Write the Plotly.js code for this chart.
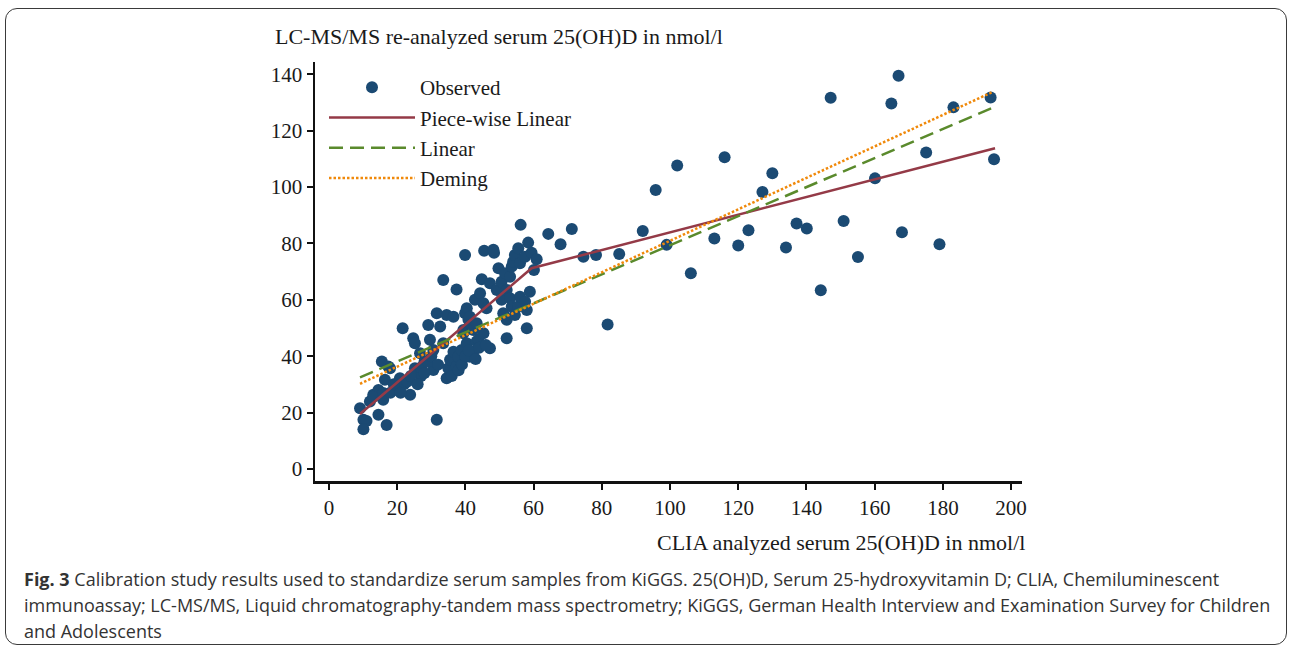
<!DOCTYPE html>
<html>
<head>
<meta charset="utf-8">
<script src="https://cdn.plot.ly/plotly-3.0.1.min.js"></script>
<style>
html,body{margin:0;padding:0;background:#fff;}
#wrap{position:relative;width:1292px;height:651px;}
#chart{width:1292px;height:651px;}
#frame{position:absolute;left:5px;top:8px;width:1280px;height:635px;border:1.5px solid #3a3a3a;border-radius:12px;pointer-events:none;}
</style>
</head>
<body>
<div id="wrap"><div id="chart"></div><div id="frame"></div></div>
<script>
// Observed calibration samples: CLIA (x) vs LC-MS/MS (y), nmol/l
const obsX = [9.1,10.1,11,10.1,12,13,14.5,14.5,15.5,15.9,16.4,16.9,17.4,17.9,19.9,20.8,21.6,22,23.8,24.7,25.2,25.2,26.7,27,28,29.1,29.6,30.6,30.6,31.6,31.6,32.6,33.5,33.5,34.5,34.5,35,35.5,36.5,36.5,37.4,37.4,37.9,38.9,39.4,39.4,39.9,39.9,40.4,40.4,40.9,41.3,41.3,41.8,42.3,42.3,42.8,43.3,43.3,43.8,44.3,44.8,45.3,45.3,45.5,46.2,47.2,47.2,48.4,48.2,49.2,49.7,50.6,50.6,51.1,51.6,52.1,52.1,52.1,53.1,53.1,53.6,53.6,54,54.5,54.5,55.5,55.5,56,56,56.2,57.5,57.5,58,58,58.4,58.9,59.4,60.1,60.9,
  13,15.9,18,19,21,23,24,26,27,28,29,30,32,36,38,39,40,41,43,44,46,
  64.3,67.9,71.2,74.6,78.3,81.7,85.1,92,95.8,99,102.1,106.1,113,116,120,123,127.1,130,134,137.1,140.1,144.2,147.1,150.9,155.1,160.1,164.9,167,168,175.1,179,183.1,194,195];
const obsY = [21.5,17.4,17,14.1,23.9,26.3,28,19.2,38.1,24.5,31.6,15.6,36.3,35.7,28,32.2,49.9,30,26.3,46.4,44.6,35.7,41,33,38,51.1,45.8,42.2,35.1,17.4,55.2,50.5,44.6,67,54.6,32.2,35.7,38.7,41.6,54,36.3,63.7,39.8,42.2,49.3,48.1,75.9,55.2,57,44.6,52.9,39.8,54,51.1,41.6,49.3,60,45.2,51.7,45.8,62.3,67.3,58.8,48.1,77.4,57,65.9,42.8,76.7,77.8,63.5,71.2,66.4,60,55.2,69.4,63.5,52.9,46.4,68.2,60.6,71.8,57.6,73.5,75.9,54.6,78.3,57.6,61.1,73,86.6,75.3,59.3,56.4,49.9,80.3,62.9,76.7,70.6,74.4,
  25.6,26.9,27,30,27,31,33,30,36,34,38,40,37,33,35,37,40,42,39,43,44,
  83.4,79.7,85.1,75.3,75.9,51.2,76.3,84.4,99,79.5,107.7,69.4,81.8,110.6,79.3,84.7,98.3,104.9,78.6,87.1,85.3,63.4,131.7,88,75.2,103.1,129.7,139.5,84,112.3,79.7,128.3,131.8,109.9];

// Fitted models
const pieceX = [9.1, 59.4, 195.3];
const pieceY = [19.5, 71.2, 113.8];
const linX = [9.1, 194.3];
const linY = [32.5, 128.0];
const demX = [9.1, 194.3];
const demY = [30.2, 133.6];

const xTicks = [0,20,40,60,80,100,120,140,160,180,200];
const yTicks = [0,20,40,60,80,100,120,140];

const yTitle = "LC-MS/MS re-analyzed serum 25(OH)D in nmol/l";
const xTitle = "CLIA analyzed serum 25(OH)D in nmol/l";
const captionLines = [
  "<b>Fig. 3</b> Calibration study results used to standardize serum samples from KiGGS. 25(OH)D, Serum 25-hydroxyvitamin D; CLIA, Chemiluminescent",
  "immunoassay; LC-MS/MS, Liquid chromatography-tandem mass spectrometry; KiGGS, German Health Interview and Examination Survey for Children",
  "and Adolescents"
];

const L = 315, R = 1022, T = 62, B = 481;
const px = x => (x - L) / (R - L);
const py = y => (B - y) / (B - T);

const serif = "Liberation Serif, Times New Roman, serif";
const traces = [
  {x: obsX, y: obsY, type: 'scatter', mode: 'markers', name: 'Observed', legendgroup: 'a',
   marker: {color: '#1b4a73', size: 12, line: {width: 0}}},
  {x: pieceX, y: pieceY, type: 'scatter', mode: 'lines', name: 'Piece-wise Linear', legendgroup: 'b',
   line: {color: '#943a47', width: 2.5}},
  {x: linX, y: linY, type: 'scatter', mode: 'lines', name: 'Linear', legendgroup: 'c',
   line: {color: '#5a8a2c', width: 2.5, dash: '14px,7px'}},
  {x: demX, y: demY, type: 'scatter', mode: 'lines', name: 'Deming', legendgroup: 'd',
   line: {color: '#f0890a', width: 2.5, dash: '2.5px,2px'}}
];

const annotations = [
  {text: yTitle, xref: 'paper', yref: 'paper', x: px(273), y: py(36), xanchor: 'left', yanchor: 'middle',
   showarrow: false, font: {family: serif, size: 22, color: '#1a1a1a'}},
  {text: xTitle, xref: 'paper', yref: 'paper', x: px(1027), y: py(542), xanchor: 'right', yanchor: 'middle',
   showarrow: false, font: {family: serif, size: 22, color: '#1a1a1a'}}
];
const capY = [579, 605, 631];
captionLines.forEach((t, i) => annotations.push({
  text: t, xref: 'paper', yref: 'paper', x: px(22), y: py(capY[i]), xanchor: 'left', yanchor: 'middle',
  showarrow: false, font: {family: 'Liberation Sans Narrow, Open Sans, sans-serif', size: 18, color: '#333'}
}));

const layout = {
  width: 1292, height: 651,
  margin: {l: L, r: 1292 - R, t: T, b: 651 - B, pad: 0},
  paper_bgcolor: '#fff', plot_bgcolor: '#fff',
  showlegend: true,
  legend: {x: px(324), y: py(67), xanchor: 'left', yanchor: 'top', bgcolor: 'rgba(0,0,0,0)',
    font: {family: serif, size: 21, color: '#1a1a1a'}, itemwidth: 86, traceorder: 'grouped', tracegroupgap: 0},
  xaxis: {range: [-4.1, 203.2], tickvals: xTicks, ticktext: xTicks.map(String), showgrid: false, zeroline: false,
    showline: true, linecolor: '#111', linewidth: 2.5, ticks: 'outside', ticklen: 6, tickwidth: 2, tickcolor: '#111',
    tickfont: {family: serif, size: 21, color: '#1a1a1a'}},
  yaxis: {range: [-4.3, 144.4], tickvals: yTicks, ticktext: yTicks.map(String), showgrid: false, zeroline: false,
    showline: true, linecolor: '#111', linewidth: 2.5, ticks: 'outside', ticklen: 6, tickwidth: 2, tickcolor: '#111',
    tickfont: {family: serif, size: 21, color: '#1a1a1a'}},
  annotations: annotations
};

Plotly.newPlot('chart', traces, layout, {displayModeBar: false, staticPlot: true});
</script>
</body>
</html>
